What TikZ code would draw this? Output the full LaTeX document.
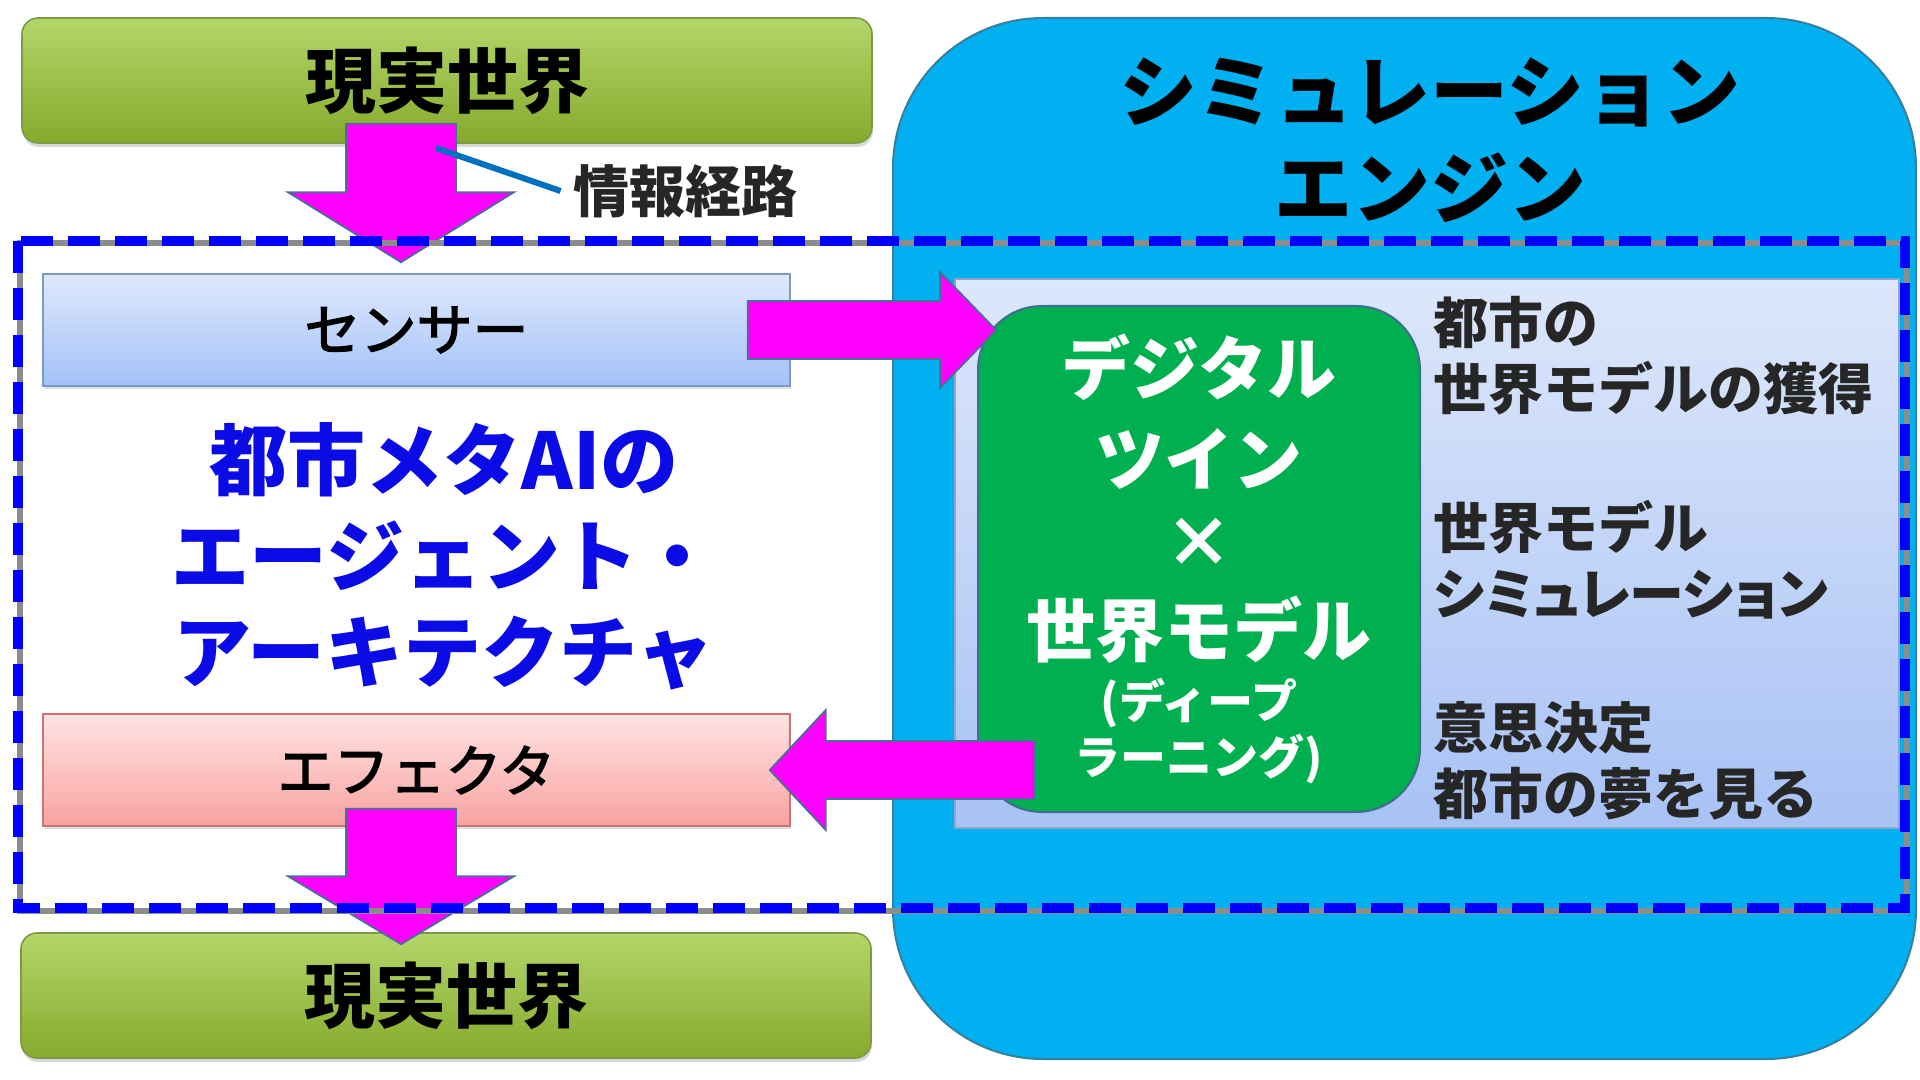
\documentclass[tikz,border=0pt]{standalone}
\usepackage{fontspec}
\setmainfont{Noto Sans CJK JP}
\newfontfamily\portfont{Noto Sans CJK JP}[FakeBold=2.5]
\newfontfamily\propfont{Noto Sans CJK JP}[RawFeature=+palt]
\usetikzlibrary{calc,shadows}
\definecolor{WorldTop}{HTML}{B3D66A}
\definecolor{WorldBottom}{HTML}{86AA2C}
\definecolor{WorldEdge}{HTML}{7E9A45}
\definecolor{FlowMagenta}{HTML}{FF00FF}
\definecolor{FlowEdge}{HTML}{4A6E96}
\definecolor{EngineCyan}{HTML}{00B0F0}
\definecolor{EngineEdge}{HTML}{35809F}
\definecolor{PanelTop}{HTML}{DDE7FB}
\definecolor{PanelBottom}{HTML}{A8C2F5}
\definecolor{PanelEdge}{HTML}{8EA6CC}
\definecolor{SensorTop}{HTML}{DFE9FD}
\definecolor{SensorBottom}{HTML}{A3C1F7}
\definecolor{SensorEdge}{HTML}{7D9AC6}
\definecolor{EffectorTop}{HTML}{FFE3E3}
\definecolor{EffectorBottom}{HTML}{F8A3A0}
\definecolor{EffectorEdge}{HTML}{CC7370}
\definecolor{TwinGreen}{HTML}{00B050}
\definecolor{TwinEdge}{HTML}{3F6E8E}
\definecolor{FrameBlue}{HTML}{0000FF}
\definecolor{TitleBlue}{HTML}{0B0BE6}
\definecolor{CalloutBlue}{HTML}{0070C0}

% fat block arrow: from, to, half shaft, half head, head length
\newcommand{\fatarrow}[5]{%
  \filldraw[flow]
    ($(#1)!#3!90:(#2)$)
    -- ($(#2)!#5!(#1)!#3!90:(#2)$)
    -- ($(#2)!#5!(#1)!#4!90:(#2)$)
    -- (#2)
    -- ($(#2)!#5!(#1)!#4!-90:(#2)$)
    -- ($(#2)!#5!(#1)!#3!-90:(#2)$)
    -- ($(#1)!#3!-90:(#2)$)
    -- cycle;}

\begin{document}
\begin{tikzpicture}[x=0.5pt,y=-0.5pt,
    worldbox/.style={draw=WorldEdge,line width=0.8pt,top color=WorldTop,bottom color=WorldBottom,
      rounded corners=8pt,minimum width=425pt,minimum height=62.5pt,
      font=\bfseries\fontsize{35.5pt}{40pt}\selectfont,
      drop shadow={opacity=0.3,shadow xshift=0.5pt,shadow yshift=-2pt}},
    portbox/.style={line width=0.8pt,minimum width=373.5pt,minimum height=56pt,
      font=\portfont\fontsize{28pt}{32pt}\selectfont,
      drop shadow={opacity=0.25,shadow xshift=0.5pt,shadow yshift=-1.5pt}},
    flow/.style={draw=FlowEdge,fill=FlowMagenta,line width=0.9pt,line join=miter},
    callout/.style={draw=CalloutBlue,line width=3pt},
    titletext/.style={align=center,inner sep=0pt,font=\bfseries\fontsize{39pt}{48.5pt}\selectfont},
    twintext/.style={inner sep=0pt,text=white,font=\bfseries\fontsize{34.5pt}{40pt}\selectfont},
    twinsmall/.style={inner sep=0pt,text=white,font=\bfseries\fontsize{23pt}{28pt}\selectfont},
    notetext/.style={anchor=west,align=left,inner sep=0pt,text=black!85,
      font=\bfseries\fontsize{27.5pt}{33pt}\selectfont}
  ]
  \useasboundingbox[fill=white] (0,0) rectangle (1920,1080);

  % simulation engine side
  \node[draw=EngineEdge,line width=1pt,fill=EngineCyan,rounded corners=75pt,
        minimum width=511.5pt,minimum height=520.5pt] (engine) at (1404.5,538.5) {};
  \node[draw=PanelEdge,line width=0.8pt,top color=PanelTop,bottom color=PanelBottom,
        minimum width=472pt,minimum height=274.5pt] (panel) at (1427,553.5) {};
  \node[draw=TwinEdge,line width=1pt,fill=TwinGreen,rounded corners=32pt,
        minimum width=221pt,minimum height=253pt] (twin) at (1199,559) {};

  % real world and agent ports
  \node[worldbox] (realtop) at (447,80.5) {現実世界};
  \node[worldbox] (realbot) at (446,995.5) {現実世界};
  \node[portbox,draw=SensorEdge,top color=SensorTop,bottom color=SensorBottom] (sensor) at (416.5,330) {センサー};
  \node[portbox,draw=EffectorEdge,top color=EffectorTop,bottom color=EffectorBottom] (effector) at (416.5,770) {エフェクタ};

  % information paths
  \coordinate (in0) at ([xshift=-23pt,yshift=10pt]realtop.south);
  \coordinate (in1) at ([xshift=-7.75pt,yshift=5.5pt]sensor.north);
  \coordinate (sens0) at ([xshift=-21.5pt]sensor.east);
  \coordinate (sens1) at ([xshift=9.5pt]twin.west |- sensor.east);
  \coordinate (act0) at ([xshift=28.5pt]twin.west |- effector.east);
  \coordinate (act1) at ([xshift=-10.5pt]effector.east);
  \coordinate (out0) at ([xshift=-7.75pt,yshift=9pt]effector.south);
  \coordinate (out1) at ([xshift=-22.5pt,yshift=-6pt]realbot.north);
  \fatarrow{in0}{in1}{27.5pt}{56.5pt}{35pt}
  \fatarrow{sens0}{sens1}{14.5pt}{29pt}{28pt}
  \fatarrow{act0}{act1}{14.5pt}{30pt}{28pt}
  \fatarrow{out0}{out1}{27.5pt}{56.5pt}{34pt}

  \coordinate (tap) at (436,148);
  \node[inner sep=6pt,text=black!85,font=\bfseries\fontsize{28pt}{32pt}\selectfont] (infolabel) at (685,191) {情報経路};
  \draw[callout] (tap) -- (infolabel.west);

  % agent architecture frame
  \node[minimum width=943.5pt,minimum height=333.5pt] (agentframe) at (961.5,574.5) {};
  \draw[black!45,line width=3pt] ([shift={(1pt,-1.2pt)}]agentframe.north west) rectangle ([shift={(1pt,-1.2pt)}]agentframe.south east);
  \draw[FrameBlue,line width=5pt,dash pattern=on 16pt off 7.5pt] (agentframe.north west) rectangle (agentframe.south east);

  % texts
  \node[titletext] (enginename) at (1430,140.5) {シミュレーション\\エンジン};
  \node[align=center,inner sep=0pt,text=TitleBlue,font=\bfseries\fontsize{39pt}{48pt}\selectfont] (agentname) at (444,556.5) {都市メタAIの\\エージェント・\\アーキテクチャ};
  \node[twintext] (twinA) at (1199,367) {デジタル};
  \node[twintext] (twinB) at (1199,459) {ツイン};
  \node[twintext] (twinC) at (1199,543) {×};
  \node[twintext] (twinD) at (1199,630) {世界モデル};
  \node[twinsmall] (twinE) at (1199,703) {(ディープ};
  \node[twinsmall] (twinF) at (1199,759) {ラーニング)};
  \node[notetext] (note1) at (1433,356) {都市の\\世界モデルの獲得};
  \node[notetext] (note2) at (1433,560) {世界モデル\\{\propfont\bfseries シミュレーション}};
  \node[notetext] (note3) at (1433,761) {意思決定\\都市の夢を見る};
\end{tikzpicture}
\end{document}
